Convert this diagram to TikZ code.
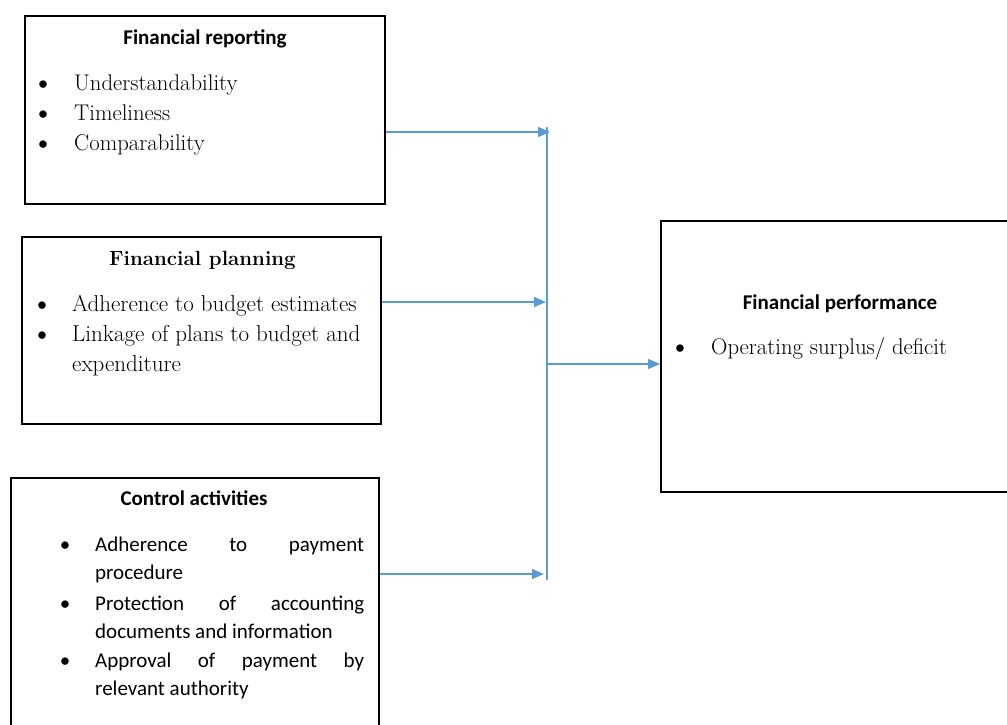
\documentclass[tikz,border=0pt]{standalone}
\usepackage{fontspec}
\newfontfamily\calib{Carlito}
\usetikzlibrary{arrows.meta}
\definecolor{arrblue}{RGB}{91,155,213}
\begin{document}
\begin{tikzpicture}[x=1pt,y=-1pt,
  box/.style={draw=black,line width=1.8pt,inner sep=0pt,fill=none},
  head/.style={font=\calib\bfseries\fontsize{21}{25}\selectfont,inner sep=0pt,anchor=base},
  ser/.style={font=\fontsize{22.7}{26}\selectfont,inner sep=0pt,anchor=base west},
  serb/.style={font=\fontsize{23}{27}\selectfont,inner sep=0pt,anchor=base west},
  cal/.style={font=\calib\fontsize{21}{25}\selectfont,inner sep=0pt,anchor=base west},
  bul/.style={font=\calib\fontsize{21}{25}\selectfont,inner sep=0pt,anchor=base},
  bar/.style={draw=arrblue,line width=1.5pt},
  arr/.style={draw=arrblue,line width=1.5pt,-{Triangle[length=12pt,width=10pt]}}]
\useasboundingbox (0,0) rectangle (1007,724);
\clip (0,0) rectangle (1007,724);
% boxes
\node[box,minimum width=360pt,minimum height=188pt] (rep) at (205,110) {};
\node[box,minimum width=359pt,minimum height=187pt] (plan) at (201.5,330.5) {};
\node[box,minimum width=368pt,minimum height=260pt] (ctrl) at (195,608) {};
\node[box,minimum width=358pt,minimum height=271pt] (perf) at (840,356.5) {};
% box 1
\node[head] (repH) at (205,44) {Financial reporting};
\node[bul] (repb1) at (43,90) {•};
\node[bul] (repb2) at (43,120) {•};
\node[bul] (repb3) at (43,150) {•};
\node[ser] (rep1) at (74,90) {Understandability};
\node[ser] (rep2) at (74,120) {Timeliness};
\node[ser] (rep3) at (74,150) {Comparability};
% box 2
\node[inner sep=0pt,anchor=base,font=\bfseries\fontsize{20.5}{24}\selectfont] (planH) at (202.5,265) {Financial planning};
\node[bul] (planb1) at (42,311) {•};
\node[bul] (planb2) at (42,341) {•};
\node[serb] (plan1) at (72,311) {Adherence to budget estimates};
\node[serb] (plan2) at (72,341) {Linkage of plans to budget and};
\node[serb] (plan3) at (72,371) {expenditure};
% box 3
\node[head] (ctrlH) at (194,505) {Control activities};
\node[bul] (ctrlb1) at (65,551) {•};
\node[bul] (ctrlb2) at (65,610) {•};
\node[bul] (ctrlb3) at (65,667) {•};
\node[cal] (ctrl1) at (95,551) {\makebox[269pt][s]{Adherence to payment}};
\node[cal] (ctrl2) at (95,579) {procedure};
\node[cal] (ctrl3) at (95,610) {\makebox[269pt][s]{Protection of accounting}};
\node[cal] (ctrl4) at (95,638) {documents and information};
\node[cal] (ctrl5) at (95,667) {\makebox[269pt][s]{Approval of payment by}};
\node[cal] (ctrl6) at (95,695) {relevant authority};
% box 4
\node[head] (perfH) at (840,309) {Financial performance};
\node[bul] (perfb) at (680,354) {•};
\node[ser] (perf1) at (711,354) {Operating surplus/ deficit};
% connectors
\coordinate (top) at (547,127);
\coordinate (bot) at (547,580);
\coordinate (j1) at (550,132);
\coordinate (j2) at (546,302);
\coordinate (j3) at (544,574);
\coordinate (j4) at (547,364);
\draw[bar] (top) -- (bot);
\draw[arr] (rep.east |- j1) -- (j1);
\draw[arr] (plan.east |- j2) -- (j2);
\draw[arr] (ctrl.east |- j3) -- (j3);
\draw[arr] (j4) -- (perf.west |- j4);
\end{tikzpicture}
\end{document}
